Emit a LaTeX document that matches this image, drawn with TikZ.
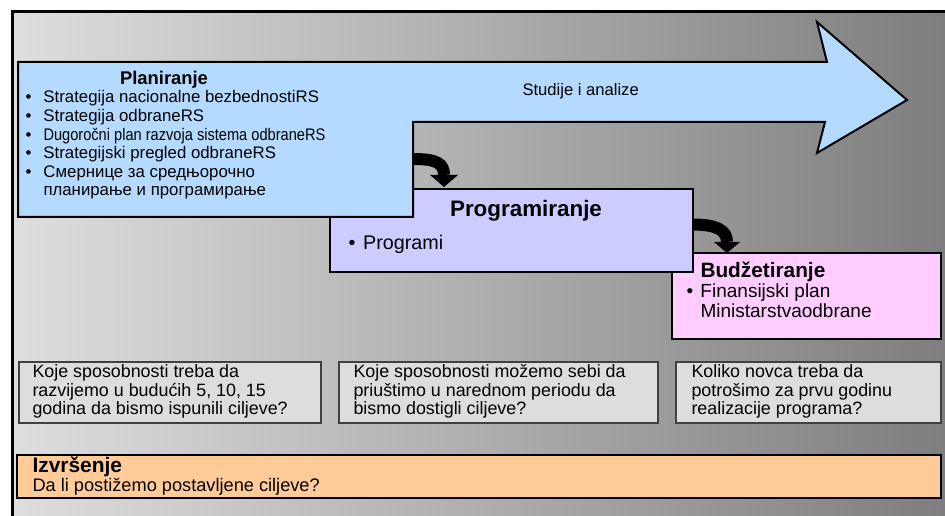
\documentclass[tikz,border=0pt]{standalone}
\usepackage{fontspec}
\usepackage{graphicx}
\setmainfont{Liberation Sans}

\definecolor{bgleft}{RGB}{222,222,222}
\definecolor{bgright}{RGB}{126,126,126}
\definecolor{planblue}{RGB}{180,218,255}
\definecolor{proglilac}{RGB}{204,204,255}
\definecolor{budpink}{RGB}{255,204,255}
\definecolor{izvorange}{RGB}{255,204,153}
\definecolor{qgray}{RGB}{221,221,221}

\newcommand\blt[1][13.5pt]{\makebox[#1][l]{\textbullet}}

\tikzset{every picture/.style={line width=0.75pt}}
\tikzset{
  txt/.style={inner sep=0pt, anchor=base west},
  shape box/.style={draw=black, line width=1.5pt},
  qbox/.style={draw=black!75, line width=1pt, fill=qgray},
  bend arrow/.style={line width=9pt, draw=black},
}

\begin{document}
\begin{tikzpicture}[x=0.75pt,y=0.75pt,yscale=-1,xscale=1]
	\useasboundingbox (0,0) rectangle (945,516);

	%Shape: Background
	\shade [left color=bgleft, right color=bgright] (12,12) rectangle (945,516);
	\draw [line width=2.25pt] (945,12) -- (12,12) -- (12,516);

	%Shape: Rectangle [Budzetiranje]
	\draw [shape box, fill=budpink] (672,253) rectangle (941,339);
	%Shape: Rectangle [Programiranje]
	\draw [shape box, fill=proglilac] (330,189) rectangle (693,272);
	%Shape: Planiranje + big arrow
	\draw [shape box, fill=planblue, line join=miter] (18,62) -- (827,62) -- (817,22) -- (907,100) -- (817,153) -- (825,122) -- (413,122) -- (413,217) -- (18,217) -- cycle;

	%Shape: bent arrows
	\coordinate (planR) at (413,159);
	\coordinate (progT) at (444,175);
	\coordinate (progR) at (693,224.5);
	\coordinate (budT) at (727,242);
	\draw [bend arrow] (planR) .. controls (436,159) and (444,163) .. (progT);
	\fill (progT) ++(-14,0) -- ++(28,0) -- ++(-14,12) -- cycle;
	\draw [bend arrow] (progR) .. controls (716,224.5) and (727,230) .. (budT);
	\fill (budT) ++(-13,0) -- ++(26,0) -- ++(-13,11) -- cycle;

	%Shape: question boxes
	\draw [qbox] (19,362) rectangle (321,423);
	\draw [qbox] (339,362) rectangle (658,423);
	\draw [qbox] (676,362) rectangle (941,423);
	%Shape: Izvrsenje
	\draw [shape box, fill=izvorange] (17,455) rectangle (941,498);

	% Text Node
	\node [txt, anchor=base, font=\fontsize{13.8}{16}\selectfont\bfseries] (plantitle) at (164,84.5) {Planiranje};
	% Text Node
	\node [txt, font=\fontsize{12.6}{13.95}\selectfont] (planlist) at (25,103) {\begin{tabular}[t]{@{}l@{}}
		\blt Strategija nacionalne bezbednostiRS\\
		\blt Strategija odbraneRS\\
		\blt \scalebox{0.87}[1]{Dugoročni plan razvoja sistema odbraneRS}\\
		\blt Strategijski pregled odbraneRS\\
		\blt Смернице за средњорочно\\
		\hspace{13.5pt}планирање и програмирање
	\end{tabular}};
	% Text Node
	\node [txt, font=\fontsize{12.45}{14}\selectfont] (studije) at (522,95.5) {Studije i analize};

	% Text Node
	\node [txt, anchor=base, font=\fontsize{16.8}{19}\selectfont\bfseries] (progtitle) at (526,216.5) {Programiranje};
	% Text Node
	\node [txt, font=\fontsize{14.8}{17}\selectfont] (proglist) at (348,250) {\blt[11pt]Programi};

	% Text Node
	\node [txt, font=\fontsize{15.6}{18}\selectfont\bfseries] (budtitle) at (700,277.5) {Budžetiranje};
	% Text Node
	\node [txt, font=\fontsize{14.25}{15}\selectfont] (budlist) at (686,297.5) {\begin{tabular}[t]{@{}l@{}}
		\blt[10.5pt]Finansijski plan\\
		\hspace{10.5pt}Ministarstvaodbrane
	\end{tabular}};

	% Text Node
	\node [txt, font=\fontsize{13.4}{14.25}\selectfont] (qplan) at (32,377) {\begin{tabular}[t]{@{}l@{}}
		Koje sposobnosti treba da\\
		razvijemo u budućih 5, 10, 15\\
		godina da bismo ispunili ciljeve?
	\end{tabular}};
	% Text Node
	\node [txt, font=\fontsize{13.4}{14.25}\selectfont] (qprog) at (353,377) {\begin{tabular}[t]{@{}l@{}}
		Koje sposobnosti možemo sebi da\\
		priuštimo u narednom periodu da\\
		bismo dostigli ciljeve?
	\end{tabular}};
	% Text Node
	\node [txt, font=\fontsize{13.4}{14.25}\selectfont] (qbud) at (691,377) {\begin{tabular}[t]{@{}l@{}}
		Koliko novca treba da\\
		potrošimo za prvu godinu\\
		realizacije programa?
	\end{tabular}};

	% Text Node
	\node [txt, font=\fontsize{15.7}{18}\selectfont\bfseries] (izvtitle) at (32,472.5) {Izvršenje};
	% Text Node
	\node [txt, font=\fontsize{13.65}{16}\selectfont] (izvtext) at (32,491.5) {Da li postižemo postavljene ciljeve?};

\end{tikzpicture}
\end{document}
